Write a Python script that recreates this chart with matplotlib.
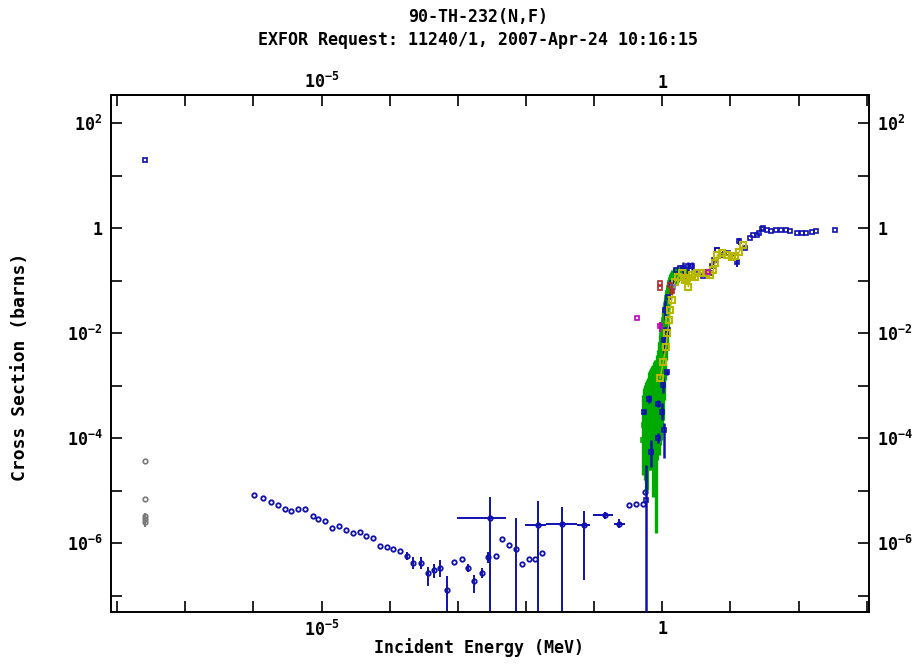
import numpy as np
import matplotlib.pyplot as plt
from matplotlib.ticker import FixedLocator, FixedFormatter, NullLocator

plt.rcParams['font.family'] = ['DejaVu Sans Mono']
plt.rcParams['font.weight'] = 'bold'
plt.rcParams['mathtext.fontset'] = 'custom'
plt.rcParams['mathtext.rm'] = 'DejaVu Sans Mono:bold'
plt.rcParams['mathtext.it'] = 'DejaVu Sans Mono:bold'
plt.rcParams['mathtext.bf'] = 'DejaVu Sans Mono:bold'

# ---- datos (MeV, barns) ----
# punto termico
term_e = [2.53e-8]
term_azul = [19.7]
term_gris = [3.7e-5, 6.8e-6, 3.27e-6, 2.83e-6, 2.51e-6]
term_gris_lo = [3.7e-5, 6.8e-6, 3.27e-6, 2.0e-6, 2.51e-6]
term_gris_hi = [3.7e-5, 6.8e-6, 3.27e-6, 3.8e-6, 2.51e-6]

# region de resonancias (azul)
res_e = [1.02e-6, 1.40e-6, 1.79e-6, 2.27e-6, 2.91e-6, 3.57e-6, 4.47e-6, 5.71e-6,
         7.41e-6, 8.96e-6, 1.11e-5, 1.42e-5, 1.80e-5, 2.29e-5, 2.89e-5, 3.66e-5,
         4.49e-5, 5.63e-5, 7.21e-5, 9.04e-5, 1.13e-4, 1.42e-4, 1.77e-4, 2.20e-4,
         2.85e-4, 3.61e-4, 4.43e-4, 5.47e-4, 7.0e-4, 8.87e-4, 1.14e-3, 1.40e-3,
         1.74e-3, 2.24e-3, 2.74e-3, 2.96e-3, 3.59e-3, 4.40e-3, 5.57e-3, 7.06e-3,
         8.83e-3, 1.11e-2, 1.36e-2, 1.50e-2, 1.73e-2, 3.34e-2, 7.17e-2, 0.146,
         0.234, 0.328, 0.411, 0.526, 0.557]
res_xs = [8.2e-6, 7.2e-6, 5.96e-6, 5.3e-6, 4.38e-6, 4.07e-6, 4.38e-6, 4.38e-6,
          3.23e-6, 2.86e-6, 2.7e-6, 1.95e-6, 2.08e-6, 1.75e-6, 1.53e-6, 1.6e-6,
          1.38e-6, 1.26e-6, 8.77e-7, 8.28e-7, 7.69e-7, 6.95e-7, 5.73e-7, 4.16e-7,
          4.16e-7, 2.72e-7, 3.06e-7, 3.39e-7, 1.31e-7, 4.4e-7, 4.95e-7, 3.44e-7,
          1.89e-7, 2.68e-7, 5.41e-7, 3.03e-6, 5.65e-7, 1.19e-6, 9.28e-7, 7.59e-7,
          4.1e-7, 5.02e-7, 5.02e-7, 2.2e-6, 6.45e-7, 2.37e-6, 2.2e-6, 3.37e-6,
          2.37e-6, 5.3e-6, 5.53e-6, 5.53e-6, 9.5e-6]

# barras de error de las resonancias
err_e = [1.77e-4, 2.20e-4, 2.85e-4, 3.61e-4, 4.43e-4, 5.47e-4, 7.0e-4, 1.40e-3,
         1.74e-3, 2.24e-3, 2.74e-3, 2.96e-3, 7.06e-3, 1.50e-2, 3.34e-2, 7.17e-2,
         0.146, 0.234]
err_xs = [5.73e-7, 4.16e-7, 4.16e-7, 2.72e-7, 3.06e-7, 3.39e-7, 1.31e-7, 3.44e-7,
          1.89e-7, 2.68e-7, 5.41e-7, 3.03e-6, 7.59e-7, 2.2e-6, 2.37e-6, 2.2e-6,
          3.37e-6, 2.37e-6]
err_lo = [4.81e-7, 3.2e-7, 3.2e-7, 1.52e-7, 2.16e-7, 2.28e-7, 1e-8, 2.84e-7,
          1.13e-7, 2.13e-7, 4.22e-7, 1e-8, 1e-8, 1e-8, 1e-8, 1.97e-7,
          2.9e-6, 1.95e-6]
err_hi = [6.83e-7, 5.41e-7, 5.41e-7, 3.54e-7, 4.1e-7, 4.75e-7, 2.35e-7, 4.1e-7,
          2.45e-7, 3.3e-7, 6.83e-7, 7.62e-6, 3.03e-6, 6.4e-6, 4.85e-6, 4.12e-6,
          3.9e-6, 2.9e-6]
err_xlo = [1.77e-4, 2.20e-4, 2.85e-4, 3.61e-4, 4.43e-4, 5.47e-4, 7.0e-4, 1.40e-3,
           1.74e-3, 2.24e-3, 2.74e-3, 9.62e-4, 7.06e-3, 9.67e-3, 1.96e-2, 5.55e-2,
           9.72e-2, 0.196]
err_xhi = [1.77e-4, 2.20e-4, 2.85e-4, 3.61e-4, 4.43e-4, 5.47e-4, 7.0e-4, 1.40e-3,
           1.74e-3, 2.24e-3, 2.74e-3, 5.09e-3, 7.06e-3, 1.96e-2, 5.55e-2, 8.69e-2,
           0.191, 0.284]

# umbral de fision: banda verde
verde_e = [0.521, 0.539, 0.557, 0.576, 0.596, 0.617, 0.638, 0.660, 0.683, 0.706,
           0.738, 0.756, 0.781, 0.808, 0.836, 0.865, 0.895, 0.925, 0.957, 0.990,
           1.024, 1.059, 1.095, 1.133, 1.172, 1.212, 1.254, 1.297, 1.342, 1.388,
           1.485, 1.589, 1.700, 1.819, 2.012, 2.227]
verde_xs = [9.16e-5, 1.77e-4, 1.42e-4, 2.74e-4, 2.2e-4, 3.41e-4, 4.25e-4, 3.41e-4,
            5.3e-4, 6.59e-4, 6.59e-4, 8.96e-4, 1.02e-3, 1.27e-3, 1.58e-3, 2.46e-3,
            3.06e-3, 3.81e-3, 5.9e-3, 9.16e-3, 0.0125, 0.0177, 0.0251, 0.0341,
            0.0464, 0.0578, 0.0720, 0.0896, 0.102, 0.112, 0.122, 0.127, 0.139,
            0.145, 0.139, 0.127]
verde_lo = [1.97e-5, 2.46e-5, 1.58e-5, 8.96e-6, 1.02e-5, 3.06e-5, 2.46e-5, 2.46e-5,
            4.1e-5, 3.8e-5, 7.52e-6, 3.8e-5, 4.74e-5, 1.55e-6, 3.8e-5, 5.9e-5,
            4.74e-5, 7.36e-5, 9.16e-5, 1.42e-4, 2.2e-4, 5.3e-4, 1.27e-3, 3.06e-3,
            5.9e-3, 0.0142, 0.0464, 0.0604, 0.0660, 0.0720, 0.0786, 0.0858, 0.0936,
            0.102, 0.0978, 0.0896]
verde_hi = [6.59e-4, 8.96e-4, 1.02e-3, 1.17e-3, 1.27e-3, 1.39e-3, 1.81e-3, 1.97e-3,
            2.16e-3, 2.35e-3, 2.46e-3, 2.8e-3, 3.06e-3, 3.06e-3, 3.81e-3, 4.75e-3,
            6.74e-3, 9.16e-3, 0.0125, 0.0177, 0.0251, 0.0341, 0.0464, 0.0604,
            0.0752, 0.0936, 0.112, 0.133, 0.145, 0.158, 0.173, 0.181, 0.189,
            0.189, 0.181, 0.173]

# umbral de fision: puntos azules
azul_e = [0.571, 0.545, 0.645, 0.676, 0.850, 0.850, 0.980, 1.070, 1.16, 1.034,
          1.059, 1.095, 1.225, 1.225, 1.388, 2.01, 2.38, 2.73, 1.59, 1.82,
          3.23, 3.96, 5.01, 5.36, 5.74, 6.35, 7.52, 9.2, 10.9]
azul_xs = [6.6e-6, 3.13e-4, 5.53e-4, 5.4e-5, 4.44e-4, 1.0e-4, 3.13e-4, 1.42e-4,
           1.81e-3, 1.02e-3, 7.36e-3, 0.0274, 0.0114, 0.0485, 0.0896, 0.173,
           0.189, 0.189, 0.158, 0.173, 0.133, 0.122, 0.139, 0.189, 0.246, 0.381,
           0.306, 0.33, 0.268]
azul_lo = [1e-8, 2.9e-4, 4.64e-4, 2.8e-5, 3.9e-4, 8.0e-5, 2.2e-4, 4.1e-5,
           1.58e-3, 7.2e-4, 4.16e-3, 0.0177, 8.8e-3, 0.0485, 0.0896, 0.127,
           0.127, 0.158, 0.158, 0.173, 0.133, 0.122, 0.139, 0.189, 0.246, 0.381,
           0.306, 0.33, 0.268]
azul_hi = [3.06e-5, 3.4e-4, 6.59e-4, 9.16e-5, 5.3e-4, 1.24e-4, 4.64e-4, 1.91e-4,
           1.97e-3, 1.45e-3, 1.3e-2, 0.0425, 0.0142, 0.0485, 0.0896, 0.226,
           0.225, 0.225, 0.158, 0.173, 0.133, 0.122, 0.139, 0.189, 0.246, 0.381,
           0.306, 0.33, 0.268]

# amarillo
amar_e = [0.925, 1.034, 1.133, 1.184, 1.267, 1.297, 1.374, 1.536, 1.717, 1.927,
          2.153, 2.28, 2.41, 2.70, 3.02, 3.20, 3.79, 4.38, 5.01, 5.60, 5.93,
          6.41, 7.44, 8.81, 10.4, 11.7, 13.5, 15.4]
amar_xs = [1.37e-3, 2.84e-3, 5.48e-3, 9.87e-3, 0.0177, 0.0274, 0.0425, 0.0948,
           0.118, 0.137, 0.102, 0.110, 0.076, 0.127, 0.118, 0.137, 0.141, 0.137,
           0.127, 0.158, 0.213, 0.306, 0.330, 0.306, 0.277, 0.293, 0.354, 0.475]

# azul alta energia
alta_e = [6.28, 7.27, 12.4, 13.5, 16.4, 19.4, 21.2, 24.3, 26.5, 29.0, 30.3, 34.0,
          39.4, 46.6, 55.2, 65.3, 74.8, 93.8, 111, 128, 156, 180, 342]
alta_xs = [0.381, 0.349, 0.228, 0.565, 0.411, 0.637, 0.736, 0.736, 0.793, 0.957,
           1.013, 0.916, 0.877, 0.916, 0.916, 0.916, 0.877, 0.793, 0.793, 0.793,
           0.828, 0.877, 0.916]
alta_lo = [0.381, 0.349, 0.181, 0.475, 0.411, 0.637, 0.736, 0.736, 0.793, 0.957,
           1.013, 0.916, 0.877, 0.916, 0.916, 0.916, 0.877, 0.793, 0.793, 0.793,
           0.828, 0.877, 0.916]
alta_hi = [0.381, 0.349, 0.268, 0.645, 0.411, 0.637, 0.736, 0.736, 0.793, 0.957,
           1.013, 0.916, 0.877, 0.916, 0.916, 0.916, 0.877, 0.793, 0.793, 0.793,
           0.828, 0.877, 0.916]

# otros
rojo_e = [0.925, 0.925, 1.297, 1.388]
rojo_xs = [0.0885, 0.071, 0.082, 0.062]
rojo_lo = [0.0885, 0.071, 0.082, 0.053]
rojo_hi = [0.0885, 0.071, 0.082, 0.072]
mag_e = [0.421, 0.925, 4.73]
mag_xs = [0.0196, 0.0136, 0.147]
mag_lo = [0.0196, 0.0106, 0.147]
mag_hi = [0.0196, 0.0164, 0.147]
celeste_e = [1.45]
celeste_xs = [0.076]

AZUL = '#1010b0'
VERDE = '#00aa00'
AMAR = '#b8b800'
GRIS = '#7a7a7a'
ROJO = '#b02828'
MAG = '#c000c0'


def barras(ax, e, s, lo, hi, color, lw=1.5, marker='o', ms=3.5, xlo=None, xhi=None, z=2):
    e = np.array(e); s = np.array(s)
    yerr = [s - np.array(lo), np.array(hi) - s]
    xerr = None
    if xlo is not None:
        xerr = [e - np.array(xlo), np.array(xhi) - e]
    ax.errorbar(e, s, yerr=yerr, xerr=xerr, fmt=marker, color=color, ms=ms,
                mfc='none', mec=color, mew=1.2, elinewidth=lw, capsize=0,
                zorder=z)


fig = plt.figure(figsize=(9.22, 6.68), dpi=100)
ax = fig.add_axes([111 / 922, 1 - 612 / 668, 758 / 922, 517 / 668])
ax.set_xscale('log')
ax.set_yscale('log')
ax.set_xlim(10 ** -8.09, 10 ** 3.033)
ax.set_ylim(10 ** -7.31, 10 ** 2.533)

# termicos
barras(ax, term_e * 5, term_gris, term_gris_lo, term_gris_hi, GRIS, ms=3.3)
ax.plot(term_e, term_azul, 's', ms=3.5, mfc='none', mec=AZUL, mew=1.2)

# resonancias
ax.plot(res_e, res_xs, 'o', ms=3.2, mfc='none', mec=AZUL, mew=1.3, zorder=3)
barras(ax, err_e, err_xs, err_lo, err_hi, AZUL, lw=1.4, marker='none',
       xlo=err_xlo, xhi=err_xhi)

# umbral
barras(ax, verde_e, verde_xs, verde_lo, verde_hi, VERDE, lw=2.4, marker='s', ms=2.5, z=3)
barras(ax, azul_e, azul_xs, azul_lo, azul_hi, AZUL, lw=1.8, marker='s', ms=3.5, z=4)
ax.plot(amar_e, amar_xs, 's', ms=4, mfc='none', mec=AMAR, mew=1.5, zorder=5)
ax.plot(amar_e, amar_xs, '-', color=AMAR, lw=1.0, zorder=5)
barras(ax, alta_e, alta_xs, alta_lo, alta_hi, AZUL, lw=1.4, marker='s', ms=3.5, z=4)
barras(ax, rojo_e, rojo_xs, rojo_lo, rojo_hi, ROJO, lw=1.4, marker='s', ms=3.5, z=6)
barras(ax, mag_e, mag_xs, mag_lo, mag_hi, MAG, lw=1.4, marker='s', ms=3.2, z=6)
ax.plot(celeste_e, celeste_xs, 's', ms=3.5, mfc='none', mec='#6a7ae8', mew=1.2, zorder=6)

# ejes
xexp = np.arange(-8, 4)
xt = 10.0 ** xexp
xl = ['$10^{-5}$' if k == -5 else ('1' if k == 0 else '') for k in xexp]
yexp = np.arange(-7, 3)
yt = 10.0 ** yexp
yl = [('1' if k == 0 else '$10^{%d}$' % k) if k % 2 == 0 else '' for k in yexp]
ax.xaxis.set_major_locator(FixedLocator(xt))
ax.xaxis.set_major_formatter(FixedFormatter(xl))
ax.yaxis.set_major_locator(FixedLocator(yt))
ax.yaxis.set_major_formatter(FixedFormatter(yl))
ax.xaxis.set_minor_locator(NullLocator())
ax.yaxis.set_minor_locator(NullLocator())
ax.tick_params(which='major', direction='in', length=8, width=1.2,
               top=True, right=True, labeltop=False, labelright=True,
               labelsize=12, pad=6)
for sp in ax.spines.values():
    sp.set_linewidth(1.4)

# etiquetas de arriba, mas pegadas al eje
arriba = ax.secondary_xaxis('top')
arriba.xaxis.set_major_locator(FixedLocator(xt))
arriba.xaxis.set_major_formatter(FixedFormatter(xl))
arriba.xaxis.set_minor_locator(NullLocator())
arriba.tick_params(which='major', direction='in', length=0, labelsize=12, pad=2)
arriba.spines['top'].set_linewidth(1.4)

fig.text(478 / 922, 1 - 17 / 668, '90-TH-232(N,F)', ha='center', va='center',
         fontsize=12, fontweight='bold')
fig.text(478 / 922, 1 - 40 / 668, 'EXFOR Request: 11240/1, 2007-Apr-24 10:16:15',
         ha='center', va='center', fontsize=12, fontweight='bold')
fig.text(479 / 922, 1 - 648 / 668, 'Incident Energy (MeV)', ha='center',
         va='center', fontsize=12, fontweight='bold')
fig.text(20 / 922, 1 - 367 / 668, 'Cross Section (barns)', ha='center',
         va='center', rotation=90, fontsize=13, fontweight='bold')

fig.savefig('out.png', dpi=100)
